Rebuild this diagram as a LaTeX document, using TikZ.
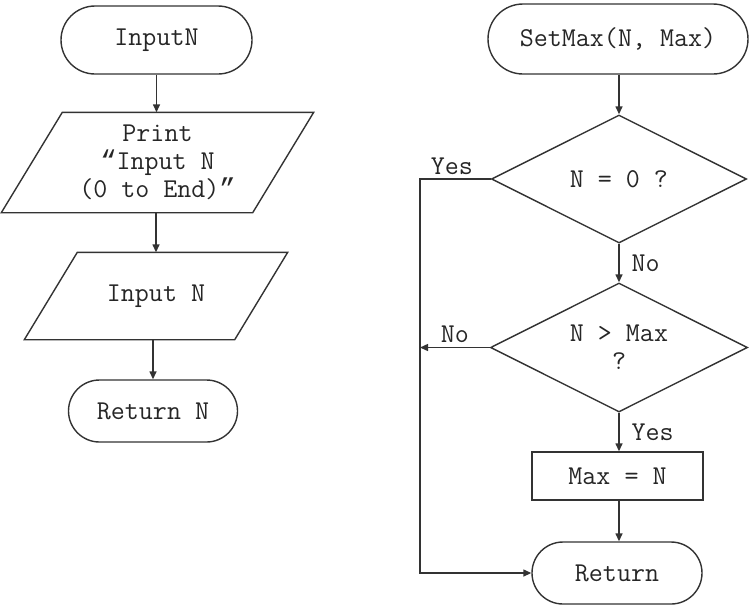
\documentclass[tikz,border=0pt]{standalone}
\usepackage{fontspec}
\newfontfamily\qfont{Liberation Mono}
\usetikzlibrary{shapes.misc,shapes.geometric,arrows.meta,calc}
\begin{document}
\begin{tikzpicture}[x=0.5pt,y=-0.5pt,
  line width=0.7pt,
  every node/.style={text=black!85, font=\ttfamily\fontsize{13.6}{14}\selectfont},
  term/.style={rounded rectangle, draw=black!80, inner sep=0pt},
  proc/.style={rectangle, draw=black!80, inner sep=0pt},
  dec/.style={diamond, shape aspect=2, draw=black!80, inner sep=0pt, align=center},
  iobox/.style={rectangle, inner sep=0pt, align=center},
  arr/.style={draw=black!80, -{Triangle[length=4pt,width=3.5pt]}},
  ln/.style={draw=black!80},
  lbl/.style={inner sep=2pt}]
\useasboundingbox (0,0) rectangle (750,607);

% left flowchart
\node[term, minimum width=95.5pt, minimum height=34pt] (n1) at (156.5,40) {InputN};
\node[iobox, minimum width=125pt, minimum height=49.5pt] (n2) at (157.5,162.5) {Print\\{\qfont “}Input N\\(0 to End){\qfont ”}};
\node[iobox, minimum width=104.5pt, minimum height=43pt] (n3) at (156,296) {Input N};
\node[term, minimum width=84.5pt, minimum height=31pt] (n4) at (153,411) {Return N};

\draw[ln] ($(n2.north west)+(30.5,0)$) -- ($(n2.north east)+(30.5,0)$)
  -- ($(n2.south east)+(-30.5,0)$) -- ($(n2.south west)+(-30.5,0)$) -- cycle;
\draw[ln] ($(n3.north west)+(26.5,0)$) -- ($(n3.north east)+(26.5,0)$)
  -- ($(n3.south east)+(-26.5,0)$) -- ($(n3.south west)+(-26.5,0)$) -- cycle;

\draw[arr] (n1.south) -- (n1.south |- n2.north);
\draw[arr] (n2.south -| n3.north) -- (n3.north);
\draw[arr] (n3.south -| n4.north) -- (n4.north);

% right flowchart
\node[term, minimum width=130pt, minimum height=35pt] (m1) at (618,39) {SetMax(N, Max)};
\node[dec, minimum width=127.5pt, minimum height=64pt] (d1) at (619,179) {N = 0 ?};
\node[dec, minimum width=128.5pt, minimum height=64.5pt] (d2) at (619,347.5) {N > Max\\?};
\node[proc, minimum width=85.5pt, minimum height=24pt] (m2) at (617.5,476) {Max = N};
\node[term, minimum width=85pt, minimum height=31pt] (m3) at (617,573) {Return};
\coordinate (lx) at (420,179);

\draw[arr] (m1.south -| d1.north) -- (d1.north);
\draw[arr] (d1.south) -- node[lbl, right, xshift=4pt] {No} (d2.north);
\draw[arr] (d2.south) -- node[lbl, right, xshift=4pt] {Yes} (d2.south |- m2.north);
\draw[arr] (d2.south |- m2.south) -- (d2.south |- m3.north);
\draw[arr] (d1.west) -- node[lbl, above, pos=0.55] {Yes} (lx) -- (lx |- m3.west) -- (m3.west);
\draw[arr] (d2.west) -- node[lbl, above, pos=0.5] {No} (d2.west -| lx);
\end{tikzpicture}
\end{document}
